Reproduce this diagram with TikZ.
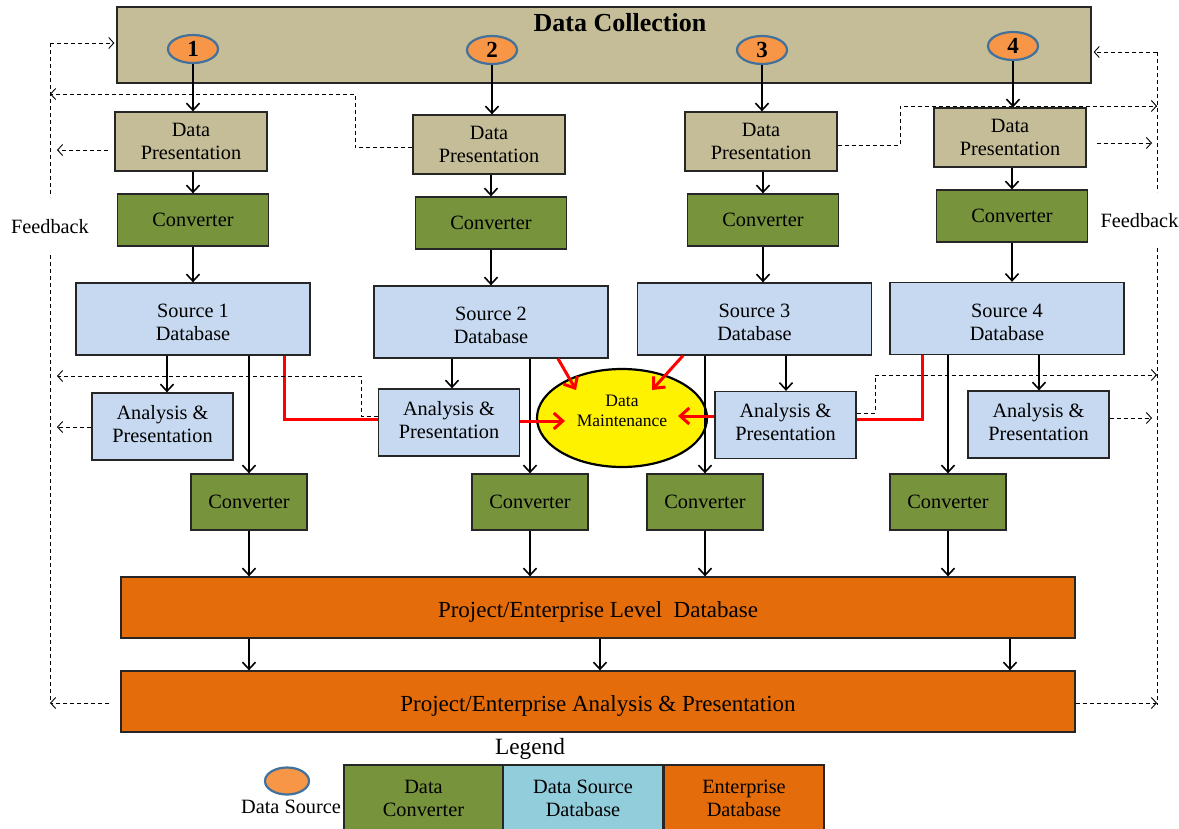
\documentclass[tikz,border=0pt]{standalone}
\usepackage{fontspec}
\setmainfont{Liberation Serif}
\usetikzlibrary{arrows.meta,shapes.geometric,calc}
\definecolor{tanc}{HTML}{C4BD97}
\definecolor{convc}{HTML}{77933C}
\definecolor{srcc}{HTML}{C6D9F1}
\definecolor{entc}{HTML}{E46C0A}
\definecolor{legdbc}{HTML}{92CDDC}
\definecolor{dsfill}{HTML}{F79646}
\definecolor{dsline}{HTML}{41719C}
\begin{document}
\begin{tikzpicture}[x=1pt,y=-1pt,
  box/.style={draw=black!85, line width=1.3pt, inner sep=0pt, align=center, font=\fontsize{20.3}{23}\selectfont},
  tanbox/.style={box, fill=tanc, minimum width=152pt, minimum height=59pt},
  convbox/.style={box, fill=convc},
  dbbox/.style={box, fill=srcc},
  entbox/.style={box, fill=entc, minimum width=954pt, minimum height=61pt, text height=19pt, text depth=0pt, font=\fontsize{23}{26}\selectfont},
  dsrc/.style={ellipse, draw=dsline, line width=2.2pt, fill=dsfill, minimum width=50pt, minimum height=28pt, inner sep=0pt, font=\fontsize{23}{23}\selectfont\bfseries},
  arr/.style={line width=1.6pt, -{Straight Barb[length=7pt,width=13pt]}},
  redline/.style={red, line width=3pt},
  redarr/.style={red, line width=3pt, -{Straight Barb[length=9pt,width=16pt]}},
  fbline/.style={line width=0.9pt, dash pattern=on 4pt off 3pt},
  fb/.style={fbline, -{Straight Barb[length=5pt,width=11pt]}},
  lbl/.style={inner sep=0pt, font=\fontsize{20.3}{23}\selectfont}
]
\useasboundingbox (0,0) rectangle (1179,828);
\clip (0,0) rectangle (1179,828);

% Data collection
\node[box, fill=tanc, minimum width=974pt, minimum height=76pt] (dc) at (604,45) {};
\node[inner sep=0pt, font=\fontsize{26}{26}\selectfont\bfseries] (dct) at (620,22.5) {Data Collection};
\node[dsrc] (s1) at (193,49) {1};
\node[dsrc] (s2) at (492,50) {2};
\node[dsrc] (s3) at (762,50) {3};
\node[dsrc] (s4) at (1013,46) {4};

% Data presentation
\node[tanbox] (dp1) at (191,141.5) {Data\\Presentation};
\node[tanbox] (dp2) at (489,144.5) {Data\\Presentation};
\node[tanbox] (dp3) at (761,141.5) {Data\\Presentation};
\node[tanbox] (dp4) at (1010,137.5) {Data\\Presentation};

% Converters row 1
\node[convbox, minimum width=151pt, minimum height=52pt] (c1) at (193,220) {Converter};
\node[convbox, minimum width=151pt, minimum height=52pt] (c2) at (491,223) {Converter};
\node[convbox, minimum width=151pt, minimum height=52pt] (c3) at (763,220) {Converter};
\node[convbox, minimum width=151pt, minimum height=52pt] (c4) at (1012,216) {Converter};

% Source databases
\node[dbbox, minimum width=234pt, minimum height=72pt, text height=44pt] (db1) at (193,319) {Source 1\\Database};
\node[dbbox, minimum width=234pt, minimum height=72pt, text height=44pt] (db2) at (491,322) {Source 2\\Database};
\node[dbbox, minimum width=234pt, minimum height=72pt, text height=44pt] (db3) at (754.5,319) {Source 3\\Database};
\node[dbbox, minimum width=234pt, minimum height=72pt, text height=44pt] (db4) at (1007,318.5) {Source 4\\Database};

% Analysis & presentation
\node[dbbox, minimum width=141pt, minimum height=67pt, text height=32pt] (ap1) at (162.5,426.5) {Analysis \&\\Presentation};
\node[dbbox, minimum width=141pt, minimum height=67pt, text height=32pt] (ap2) at (449,422.5) {Analysis \&\\Presentation};
\node[dbbox, minimum width=141pt, minimum height=67pt, text height=32pt] (ap3) at (785.5,425) {Analysis \&\\Presentation};
\node[dbbox, minimum width=141pt, minimum height=67pt, text height=32pt] (ap4) at (1038.5,424.5) {Analysis \&\\Presentation};

% Data maintenance
\node[ellipse, draw=black, line width=2.2pt, fill=yellow, minimum width=170pt, minimum height=98pt, inner sep=0pt] (dm) at (622,418) {};
\node[inner sep=0pt, align=center, font=\fontsize{17.5}{20}\selectfont] (dmt) at (622,411) {Data\\Maintenance};

% Converters row 2
\node[convbox, minimum width=116pt, minimum height=56pt] (k1) at (249,502) {Converter};
\node[convbox, minimum width=116pt, minimum height=56pt] (k2) at (530,502) {Converter};
\node[convbox, minimum width=116pt, minimum height=56pt] (k3) at (705,502) {Converter};
\node[convbox, minimum width=116pt, minimum height=56pt] (k4) at (948,502) {Converter};

% Enterprise
\node[entbox] (edb) at (598,607.5) {Project/Enterprise Level~ Database};
\node[entbox] (eap) at (598,701.5) {Project/Enterprise Analysis \& Presentation};

% Black arrows
\foreach \i in {1,2,3,4}{
  \draw[arr] (s\i.south) -- (s\i.south |- dp\i.north);
  \draw[arr] (c\i.north |- dp\i.south) -- (c\i.north);
  \draw[arr] (c\i.south) -- (c\i.south |- db\i.north);
  \draw[arr] (k\i.north |- db\i.south) -- (k\i.north);
  \draw[arr] (k\i.south) -- (k\i.south |- edb.north);
}
\draw[arr] ([xshift=4.5pt]ap1.north |- db1.south) -- ([xshift=4.5pt]ap1.north);
\draw[arr] ([xshift=3pt]ap2.north |- db2.south) -- ([xshift=3pt]ap2.north);
\draw[arr] ([xshift=0.5pt]ap3.north |- db3.south) -- ([xshift=0.5pt]ap3.north);
\draw[arr] ([xshift=0.5pt]ap4.north |- db4.south) -- ([xshift=0.5pt]ap4.north);
\draw[arr] (edb.south -| k1) -- (eap.north -| k1);
\draw[arr] ([xshift=2pt]edb.south) -- ([xshift=2pt]eap.north);
\draw[arr] ([xshift=412pt]edb.south) -- ([xshift=412pt]eap.north);

% Red lines
\coordinate (dmA) at ($(dm.center)+(-57,3)$);
\coordinate (dmB) at ($(dm.center)+(-46,-28)$);
\coordinate (dmC) at ($(dm.center)+(30,-28)$);
\coordinate (dmD) at ($(dm.center)+(56,-2)$);
\draw[redline] ([xshift=91pt]db1.south) |- ([yshift=3.5pt]ap2.west);
\draw[redarr] ([yshift=1.5pt]ap2.east) -- (dmA);
\draw[redarr] ([xshift=67pt]db2.south) -- (dmB);
\draw[redarr] ([xshift=-71.5pt]db3.south) -- (dmC);
\draw[redarr] ([yshift=9pt]ap3.west) -- (dmD);
\draw[redline] ([xshift=-85pt]db4.south) |- ([yshift=6pt]ap3.east);

% Feedback rails
\coordinate (Lrail) at (50,0);
\coordinate (La) at (57,0);
\coordinate (Rrail) at (1157,0);
\coordinate (Ra) at (1152,0);
\coordinate (Ltop) at (50,43);
\coordinate (Lg1) at (50,197);
\coordinate (Lg2) at (50,255);
\coordinate (Lbot) at (50,703);
\coordinate (Rtop) at (1157,52);
\coordinate (Rg1) at (1157,192);
\coordinate (Rg2) at (1157,248);
\coordinate (Rbot) at (1157,705);
\node[lbl] (fbL) at (50,227) {Feedback};
\node[lbl] (fbR) at (1139.5,221) {Feedback};
\draw[fbline] (Ltop) -- (Lg1);
\draw[fbline] (Lg2) -- (Lbot);
\draw[fbline] (Rtop) -- (Rg1);
\draw[fbline] (Rg2) -- (Rbot);

% Left feedback arrows
\draw[fb] (Ltop) -- ([xshift=-2pt]dc.west |- Ltop);
\coordinate (j2) at (355,94);
\draw[fb] ([yshift=-3pt]dp2.west) -| (j2) -- (j2 -| Lrail);
\draw[fb] ([xshift=-6pt,yshift=-8.5pt]dp1.west) -- ([yshift=-8.5pt]dp1.west -| La);
\coordinate (j2b) at (361,376);
\draw[fb] ([yshift=6.5pt]ap2.west) -| (j2b) -- (j2b -| La);
\draw[fb] ([yshift=-0.5pt]ap1.west) -- ([yshift=-0.5pt]ap1.west -| La);
\draw[fb] ([xshift=-11pt,yshift=-1.5pt]eap.west) -- ([yshift=-1.5pt]eap.west -| Lrail);

% Right feedback arrows
\draw[fb] (Rtop) -- ([xshift=2pt]dc.east |- Rtop);
\coordinate (j3) at (900,106);
\draw[fb] ([yshift=-3.5pt]dp3.east) -| (j3) -- (j3 -| Rrail);
\draw[fb] ([xshift=10pt,yshift=-5.5pt]dp4.east) -- ([yshift=-5.5pt]dp4.east -| Ra);
\coordinate (j3b) at (875,375);
\draw[fb] ([yshift=12pt]ap3.east) -| (j3b) -- (j3b -| Rrail);
\draw[fb] ([yshift=6.5pt]ap4.east) -- ([yshift=6.5pt]ap4.east -| Ra);
\draw[fb] ([yshift=-1.5pt]eap.east) -- ([yshift=-1.5pt]eap.east -| Rrail);

% Legend
\node[inner sep=0pt, font=\fontsize{23.3}{23}\selectfont] (leg) at (530,749) {Legend};
\node[ellipse, draw=dsline, line width=2.2pt, fill=dsfill, minimum width=44pt, minimum height=27pt, inner sep=0pt] (lds) at (287,781) {};
\node[lbl] (ldst) at (291,807) {Data Source};
\node[convbox, minimum width=159pt, minimum height=66pt] (lc) at (423.5,798) {Data\\Converter};
\node[box, fill=legdbc, minimum width=160pt, minimum height=66pt] (ld) at (583,798) {Data Source\\Database};
\node[box, fill=entc, minimum width=160pt, minimum height=66pt] (le) at (744,798) {Enterprise\\Database};
\end{tikzpicture}
\end{document}
